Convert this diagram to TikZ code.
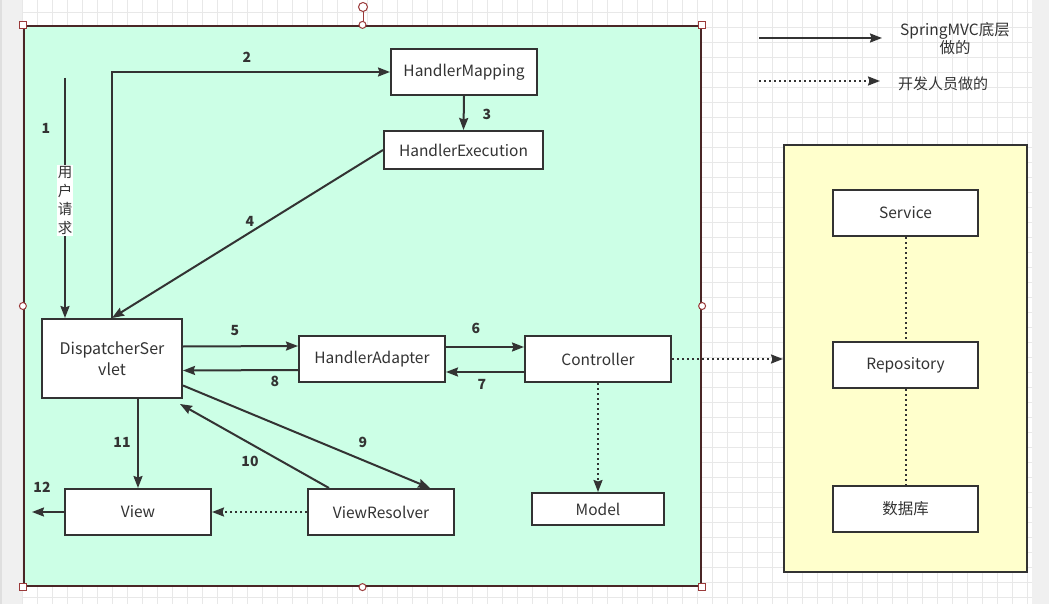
\documentclass[tikz,border=0pt]{standalone}
\usepackage{fontspec}
\setmainfont{Noto Sans CJK SC}
\usetikzlibrary{arrows.meta,calc}
\definecolor{ink}{HTML}{333333}
\definecolor{mint}{HTML}{CCFFE6}
\definecolor{cream}{HTML}{FFFFCC}
\definecolor{gridc}{HTML}{E8E8E8}
\definecolor{side}{HTML}{F0F0F0}
\definecolor{sel}{HTML}{4A2626}
\definecolor{handle}{HTML}{9A3A3A}
\begin{document}
\begin{tikzpicture}[x=1pt,y=-1pt,
  box/.style={draw=ink, line width=2pt, fill=white, text=ink, inner sep=0pt,
    font=\fontsize{15.5}{19}\selectfont, minimum width=146pt, minimum height=46pt, align=center},
  arr/.style={draw=ink, line width=2pt, -{Stealth[length=12pt,width=9pt,inset=1.5pt]}},
  dotarr/.style={arr, dash pattern=on 2pt off 3pt},
  dotline/.style={draw=ink, line width=2pt, dash pattern=on 2pt off 3pt},
  num/.style={text=ink, font=\fontsize{14}{16}\selectfont\bfseries, inner sep=0pt},
  sq/.style={draw=handle, line width=1pt, fill=white, minimum size=7pt, inner sep=0pt},
  ci/.style={draw=handle, line width=1pt, fill=white, circle, minimum size=7pt, inner sep=0pt}
]
\useasboundingbox (0,0) rectangle (1049,604);
% background and grid
\fill[white] (0,0) rectangle (1049,604);
\foreach \gx in {22,37,...,1032} \draw[gridc, line width=0.8pt] (\gx,0) -- (\gx,604);
\foreach \gy in {12,27,...,604} \draw[gridc, line width=0.8pt] (22,\gy) -- (1032,\gy);
\fill[side] (0,0) rectangle (22,604);
\fill[side] (1032,0) rectangle (1049,604);
\fill[gray!25] (0,0) rectangle (2,604);

% containers
\node[draw=sel, line width=2.2pt, fill=mint, minimum width=677pt, minimum height=560pt, inner sep=0pt] (frame) at (362.5,306) {};
\node[draw=ink, line width=2pt, fill=cream, minimum width=243pt, minimum height=427pt, inner sep=0pt] (layer) at (905.5,358.5) {};

% nodes
\node[box] (hm) at (464,72) {HandlerMapping};
\node[box, minimum width=159pt, minimum height=38pt] (he) at (463.5,150) {HandlerExecution};
\node[box, minimum width=140pt, minimum height=79pt, font=\fontsize{16}{21}\selectfont] (ds) at (112,358.5) {DispatcherSer\\vlet};
\node[box] (ha) at (372,359) {HandlerAdapter};
\node[box] (ctl) at (598,359) {Controller};
\node[box] (view) at (138,512) {View};
\node[box] (vr) at (381,512) {ViewResolver};
\node[box, minimum width=132pt, minimum height=32pt] (model) at (598,509) {Model};
\node[box, minimum width=145pt] (svc) at (905.5,213) {Service};
\node[box, minimum width=145pt] (repo) at (905.5,365) {Repository};
\node[box, minimum width=145pt] (db) at (905.5,509) {数据库};

% connectors
\coordinate (req) at (65,78);
\draw[arr] (req) -- (req |- ds.north);
\node[fill=white, inner sep=1pt, text=ink, font=\fontsize{14.5}{18.6}\selectfont, align=center] (reqlab) at (65,200.5) {用\\户\\请\\求};
\draw[arr] (ds.north) |- (hm.west);
\draw[arr] (hm.south) -- (he.north);
\draw[arr] (he.west) -- (ds.north);
\draw[arr] ($(ds.east)+(0,-12)$) -- ($(ha.west)+(0,-13)$);
\draw[arr] ($(ha.west)+(0,11)$) -- ($(ds.east)+(0,12)$);
\draw[arr] ($(ha.east)+(0,-12)$) -- ($(ctl.west)+(0,-12)$);
\draw[arr] ($(ctl.west)+(0,13)$) -- ($(ha.east)+(0,13)$);
\draw[arr] ($(ds.east)+(0,27)$) -- ($(vr.north)+(49,0)$);
\coordinate (tip10) at (180,404);
\draw[arr] ($(vr.north)+(-52,0)$) -- (tip10);
\draw[arr] (view.north |- ds.south) -- (view.north);
\coordinate (end12) at (32,512);
\draw[arr] (view.west) -- (end12);
\draw[dotarr] (vr.west) -- (view.east);
\draw[dotarr] (ctl.south) -- (model.north);
\draw[dotarr] (ctl.east) -- (layer.west |- ctl.east);
\draw[dotline] (svc.south) -- (repo.north);
\draw[dotline] (repo.south) -- (db.north);

% step numbers
\node[num] (n1) at (46,128) {1};
\node[num] (n2) at (247,57) {2};
\node[num] (n3) at (487,114) {3};
\node[num] (n4) at (250,221) {4};
\node[num] (n5) at (235,331) {5};
\node[num] (n6) at (476,328) {6};
\node[num] (n7) at (482,384) {7};
\node[num] (n8) at (275,381) {8};
\node[num] (n9) at (363,442) {9};
\node[num] (n10) at (250,461) {10};
\node[num] (n11) at (122,442) {11};
\node[num] (n12) at (42,487) {12};

% legend
\coordinate (la) at (759,38);
\coordinate (lb) at (882,38);
\draw[arr] (la) -- (lb);
\node[text=ink, font=\fontsize{15.5}{18}\selectfont, align=center, inner sep=0pt] (lt1) at (955,39) {SpringMVC底层\\做的};
\coordinate (lc) at (759,81);
\coordinate (ld) at (880,81);
\draw[dotarr] (lc) -- (ld);
\node[text=ink, font=\fontsize{15}{18}\selectfont, anchor=west, inner sep=0pt] (lt2) at (898,84) {开发人员做的};

% selection handles
\draw[handle, line width=1pt] (363,26) -- (363,8);
\node[ci, minimum size=9pt] (rot) at (363,7) {};
\node[sq] (h1) at (frame.north west) {};
\node[sq] (h2) at (frame.north east) {};
\node[sq] (h3) at (frame.south west) {};
\node[sq] (h4) at (frame.south east) {};
\node[ci] (h5) at (frame.north) {};
\node[ci] (h6) at (frame.south) {};
\node[ci] (h7) at (frame.west) {};
\node[ci] (h8) at (frame.east) {};
\end{tikzpicture}
\end{document}
